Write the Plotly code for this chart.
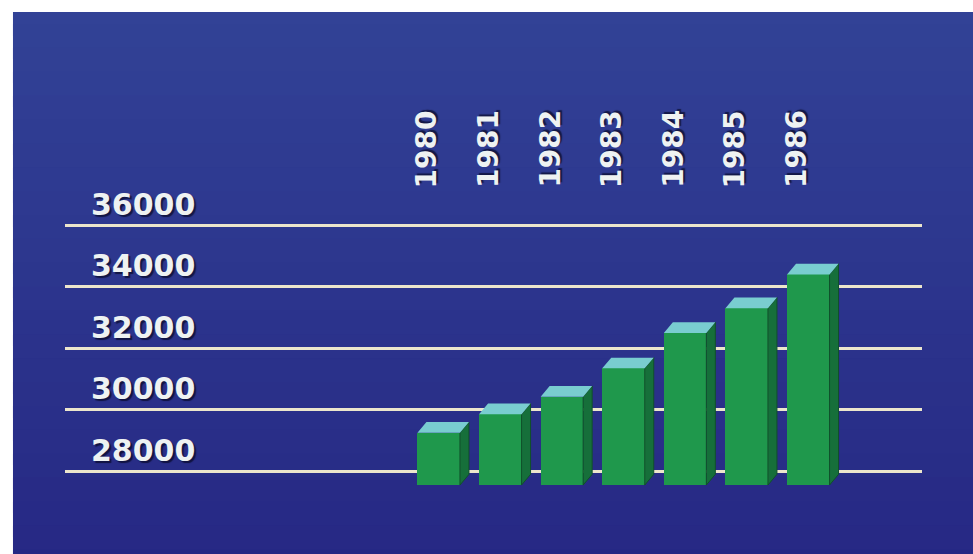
import plotly.graph_objects as go

# ---- data ----
years = [1980, 1981, 1982, 1983, 1984, 1985, 1986]
year_labels = ["1980", "1981", "1982", "1983", "1984", "1985", "1986"]
values = [29260, 29860, 30430, 31350, 32500, 33300, 34400]
tick_vals = [28000, 30000, 32000, 34000, 36000]
tick_labels = ["28000", "30000", "32000", "34000", "36000"]
BASE = 27560

# ---- style ----
BAR_W = 0.69
DX = 0.146      # depth offset in x units
DY = 347        # depth offset in value units
FRONT = "#1f984c"
SIDE = "#166f3a"
TOP = "#79cdd0"
TEXT = "#eef2f2"
GRID = "#ece6cc"
FONT = "DejaVu Sans"
LABEL_Y = 38470

fig = go.Figure()

# front faces
fig.add_trace(go.Bar(
    x=years, y=[v - BASE for v in values], base=BASE, width=BAR_W,
    marker=dict(color=FRONT, line=dict(width=0)), hoverinfo="skip",
))

# side faces and tops (computed from the data values)
sx, sy, tx, ty = [], [], [], []
for x, v in zip(years, values):
    r = x + BAR_W / 2
    l = x - BAR_W / 2
    sx += [r, r + DX, r + DX, r, r, None]
    sy += [BASE, BASE + DY, v + DY, v, BASE, None]
    tx += [l, r, r + DX, l + DX, l, None]
    ty += [v, v, v + DY, v + DY, v, None]

fig.add_trace(go.Scatter(x=sx, y=sy, mode="lines", fill="toself",
                         fillcolor=SIDE, line=dict(width=1, color="#10502b"),
                         hoverinfo="skip"))
fig.add_trace(go.Scatter(x=tx, y=ty, mode="lines", fill="toself",
                         fillcolor=TOP, line=dict(width=0, color=TOP),
                         hoverinfo="skip"))

# background gradient bands (blue), white border at top/left
shapes = []
n = 24
top_c = (50, 66, 150)
bot_c = (38, 40, 132)
y_top = 1.1807
y_bot = -0.2
step = (y_top - y_bot) / n
for i in range(n):
    t = i / (n - 1)
    c = tuple(int(round(top_c[k] + (bot_c[k] - top_c[k]) * t)) for k in range(3))
    y1 = y_top if i == 0 else y_top - step * i + step * 0.5
    y0 = y_top - step * (i + 1)
    shapes.append(dict(type="rect", xref="paper", yref="paper",
                       x0=-0.0607, x1=1.2, y0=y0, y1=y1,
                       fillcolor="rgb(%d,%d,%d)" % c, line=dict(width=0),
                       layer="below"))

annotations = []
for v, lab in zip(tick_vals, tick_labels):
    annotations.append(dict(
        xref="paper", yref="y", x=0.028, y=v, xanchor="left", yanchor="middle",
        yshift=21, text=lab, showarrow=False,
        font=dict(family=FONT, size=30, color=TEXT, weight="bold",
                  shadow="2px 2px 1px rgba(0,0,20,0.6)"),
    ))
for x, lab in zip(years, year_labels):
    annotations.append(dict(
        xref="x", yref="y", x=x - 0.2, y=LABEL_Y, xanchor="center",
        yanchor="middle", textangle=-90, text=lab, showarrow=False,
        font=dict(family=FONT, size=28, color=TEXT, weight="bold",
                  shadow="2px 2px 1px rgba(0,0,20,0.6)"),
    ))

fig.update_layout(
    width=973, height=554,
    margin=dict(l=65, r=51, t=87, b=52),
    paper_bgcolor="white", plot_bgcolor="rgba(0,0,0,0)",
    showlegend=False, shapes=shapes, annotations=annotations,
    xaxis=dict(range=[1973.933, 1987.846], showgrid=False, zeroline=False,
               showticklabels=False, showline=False, ticks=""),
    yaxis=dict(range=[27010, 40484], tickvals=tick_vals, showgrid=True,
               gridcolor=GRID, gridwidth=3, zeroline=False,
               showticklabels=False, showline=False, ticks=""),
    bargap=0,
)

fig.write_html("out.html")
